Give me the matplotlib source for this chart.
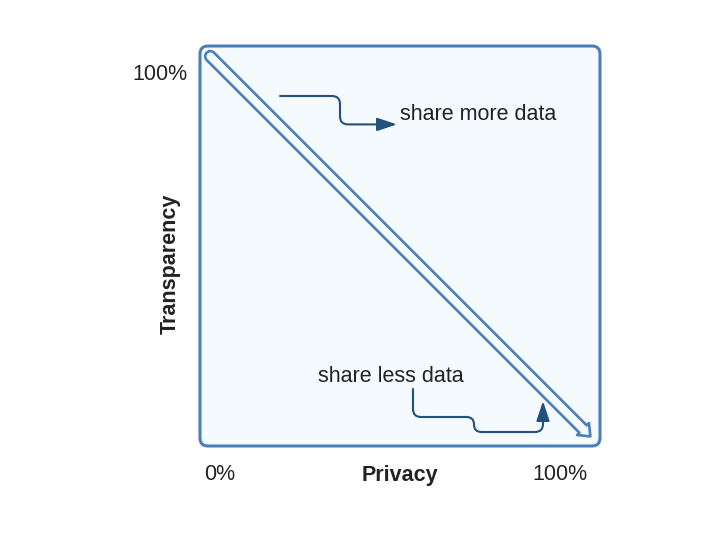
import matplotlib
matplotlib.use("Agg")
import numpy as np
import matplotlib.pyplot as plt
from matplotlib.patches import FancyBboxPatch, FancyArrowPatch, Polygon
from matplotlib.path import Path

plt.rcParams['font.family'] = ['Liberation Sans', 'DejaVu Sans']

# chart content (axes run 0..100 for privacy and transparency)
x_tick_pos = [5, 90]
x_tick_labels = ['0%', '100%']
y_tick_pos = [92.75]
y_tick_labels = ['100%']
x_label = 'Privacy'
y_label = 'Transparency'
trade_start = (2.6, 97.4)
trade_end = (97.6, 2.4)
notes = ['share more data', 'share less data']
note_pos = [(50, 82.75), (29.5, 17.5)]

box_edge = '#4a80b8'
box_fill = '#f5faff'
conn_col = '#24507e'
text_col = '#222222'


def rounded_path(pts, r):
    # polyline with rounded corners (quadratic bezier at each bend)
    verts = [pts[0]]
    codes = [Path.MOVETO]
    for i in range(1, len(pts) - 1):
        (x0, y0), (x1, y1), (x2, y2) = pts[i - 1], pts[i], pts[i + 1]
        d1 = ((x1 - x0) ** 2 + (y1 - y0) ** 2) ** 0.5
        d2 = ((x2 - x1) ** 2 + (y2 - y1) ** 2) ** 0.5
        a = min(r, d1 / 2, d2 / 2)
        p1 = (x1 - (x1 - x0) / d1 * a, y1 - (y1 - y0) / d1 * a)
        p2 = (x1 + (x2 - x1) / d2 * a, y1 + (y2 - y1) / d2 * a)
        verts += [p1, (x1, y1), p2]
        codes += [Path.LINETO, Path.CURVE3, Path.CURVE3]
    verts.append(pts[-1])
    codes.append(Path.LINETO)
    return Path(verts, codes)


def hollow_arrow(start, end, w=1.3, hw=2.1, hl=2.6):
    # outline of a fat arrow with a round tail
    s = np.array(start, float)
    e = np.array(end, float)
    d = (e - s) / np.linalg.norm(e - s)
    n = np.array([-d[1], d[0]])
    ang0 = np.arctan2(n[1], n[0])
    t = np.linspace(ang0, ang0 + np.pi, 20)
    tail = [s + w * np.array([np.cos(a), np.sin(a)]) for a in t]
    b = e - d * hl
    head = [b - n * w, b - n * hw, e, b + n * hw, b + n * w]
    return np.array(tail + head)


fig = plt.figure(figsize=(7.2, 5.47), dpi=100)
ax = fig.add_axes([200 / 720, 101 / 547, 400 / 720, 400 / 547])
ax.set_xlim(0, 100)
ax.set_ylim(0, 100)
ax.axis('off')

box = FancyBboxPatch((0, 0), 100, 100, boxstyle='round,pad=0,rounding_size=2',
                     fc=box_fill, ec=box_edge, lw=2.2, clip_on=False, zorder=1)
ax.add_patch(box)

# hollow diagonal arrow
diag = Polygon(hollow_arrow(trade_start, trade_end), closed=True,
               fc=box_fill, ec=box_edge, lw=1.9, joinstyle='round', zorder=3)
ax.add_patch(diag)

# elbow connectors
top_pts = [(20, 87.5), (35, 87.5), (35, 80.4), (49.25, 80.4)]
bot_pts = [(53.25, 14.25), (53.25, 7.25), (68.5, 7.25), (68.5, 3.5),
           (85.75, 3.5), (85.75, 11.25)]
for pts in [top_pts, bot_pts]:
    arr = FancyArrowPatch(path=rounded_path(pts, 2.0),
                          arrowstyle='-|>,head_length=12,head_width=4',
                          color=conn_col, lw=1.5, mutation_scale=1, zorder=4)
    ax.add_patch(arr)

for txt, (x, y) in zip(notes, note_pos):
    ax.text(x, y, txt, fontsize=15.5, color=text_col, ha='left', va='center')

for x, lab in zip(x_tick_pos, x_tick_labels):
    ax.text(x, -7.25, lab, fontsize=15.5, color=text_col, ha='center', va='center',
            clip_on=False)
for y, lab in zip(y_tick_pos, y_tick_labels):
    ax.text(-3.25, y, lab, fontsize=15.5, color=text_col, ha='right', va='center',
            clip_on=False)

ax.text(50, -7.25, x_label, fontsize=15.5, fontweight='bold', color=text_col,
        ha='center', va='center')
ax.text(-7.5, 45.5, y_label, fontsize=15.5, fontweight='bold', color=text_col,
        ha='center', va='center', rotation=90)

fig.savefig('out.png', dpi=100)
